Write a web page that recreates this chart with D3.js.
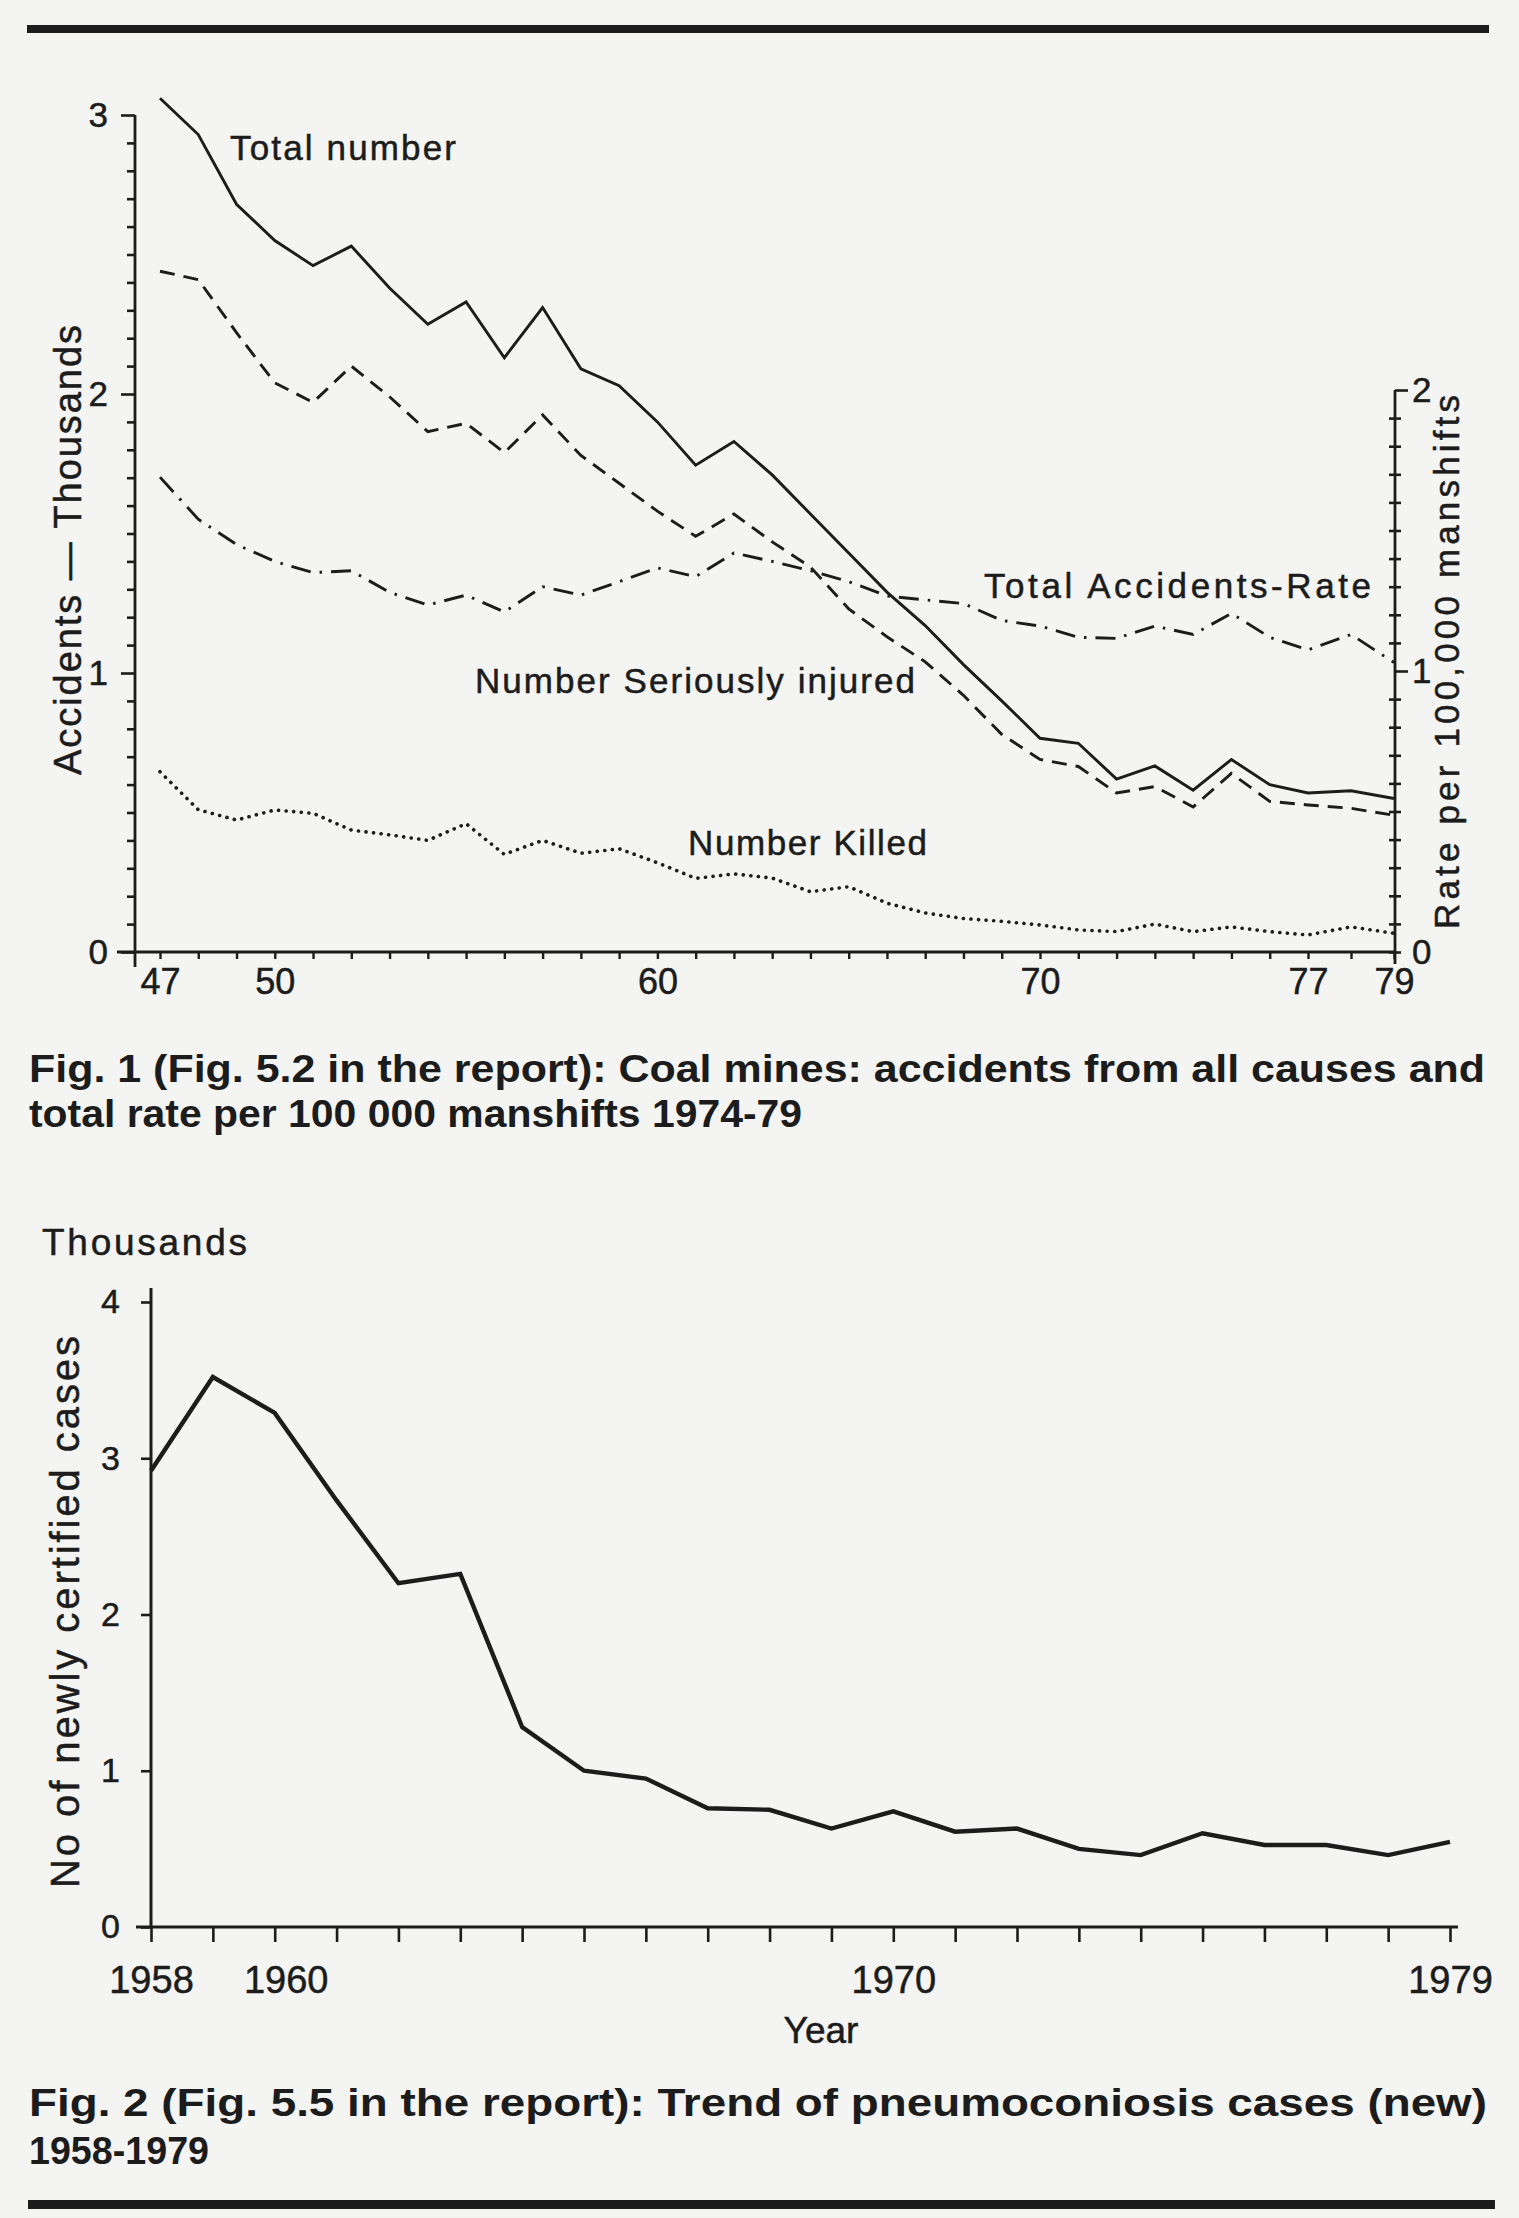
<!DOCTYPE html>
<html><head><meta charset="utf-8">
<script src="https://cdn.jsdelivr.net/npm/d3@7"></script>
<style>
html,body{margin:0;padding:0;background:#f4f4f2;}
svg{display:block;}
text{font-family:"Liberation Sans", Arial, Helvetica, sans-serif; fill:#1c1c1c;}
.lbl{stroke:#1c1c1c; stroke-width:0.5px;}
</style></head><body>
<svg id="c" width="1519" height="2218"></svg>
<script>
// ---------- Fig. 1 data ----------
const accYears = [47,48,49,50,51,52,53,54,55,56,57,58,59,60,61,62,63,64,65,66,67,68,69,70,71,72,73,74,75,76,77,78,79];
const totalNumber = [3.06,2.93,2.68,2.55,2.46,2.53,2.38,2.25,2.33,2.13,2.31,2.09,2.03,1.90,1.745,1.83,1.71,1.57,1.43,1.29,1.17,1.03,0.90,0.766,0.748,0.62,0.667,0.58,0.69,0.60,0.57,0.578,0.55];
const seriouslyInjured = [2.44,2.41,2.22,2.04,1.97,2.10,1.99,1.865,1.895,1.79,1.925,1.78,1.68,1.58,1.49,1.57,1.47,1.38,1.23,1.13,1.04,0.92,0.78,0.69,0.665,0.57,0.593,0.52,0.64,0.54,0.527,0.515,0.49];
const numberKilled = [0.646,0.51,0.473,0.509,0.497,0.437,0.42,0.40,0.46,0.35,0.40,0.354,0.37,0.32,0.264,0.28,0.265,0.216,0.234,0.175,0.14,0.12,0.11,0.097,0.079,0.073,0.10,0.073,0.09,0.073,0.061,0.09,0.067];
const accidentRate = [1.69,1.54,1.45,1.39,1.35,1.357,1.28,1.235,1.27,1.21,1.30,1.27,1.318,1.367,1.336,1.42,1.39,1.357,1.318,1.267,1.253,1.24,1.18,1.16,1.12,1.116,1.16,1.13,1.205,1.12,1.075,1.13,1.03];
const fig1XLabels = [47,50,60,70,77,79];
const fig1LeftLabels = [0,1,2,3];
const fig1RightLabels = [0,1,2];

// ---------- Fig. 2 data ----------
const pnYears = [1958,1959,1960,1961,1962,1963,1964,1965,1966,1967,1968,1969,1970,1971,1972,1973,1974,1975,1976,1977,1978,1979];
const pnCases = [2.92,3.52,3.29,2.73,2.20,2.26,1.28,1.00,0.95,0.76,0.75,0.63,0.74,0.61,0.63,0.50,0.46,0.60,0.525,0.525,0.46,0.545];
const fig2XLabels = [1958,1960,1970,1979];
const fig2YLabels = [0,1,2,3,4];

const ink = "#1c1c1c";
const svg = d3.select("#c");
svg.append("rect").attr("width",1519).attr("height",2218).attr("fill","#f4f4f2");

// rules
svg.append("rect").attr("x",27).attr("y",25).attr("width",1462).attr("height",8).attr("fill",ink);
svg.append("rect").attr("x",28).attr("y",2200).attr("width",1467).attr("height",9).attr("fill",ink);

// ================= FIG 1 =================
const x1 = d3.scaleLinear().domain([47,70,77,79]).range([160,1040,1308,1394]);
const yL = d3.scaleLinear().domain([0,3]).range([952,115]);
const yR = d3.scaleLinear().domain([0,2]).range([952,390]);

const g1 = svg.append("g");

// x axis
const xAx1 = d3.axisBottom(x1).tickValues(accYears).tickSize(7).tickSizeOuter(0)
  .tickFormat(d => fig1XLabels.includes(d) ? d : "");
const gx1 = g1.append("g").attr("transform","translate(0,952)").call(xAx1);
gx1.select(".domain").remove();
gx1.selectAll("line").attr("stroke",ink).attr("stroke-width",2.4);
gx1.selectAll("text").attr("class","lbl").attr("y",42).attr("dy",0).attr("font-size",36).attr("fill",ink);
g1.append("line").attr("x1",x1(47)-43).attr("x2",x1(79)+1).attr("y1",952).attr("y2",952)
  .attr("stroke",ink).attr("stroke-width",2.8);

// left y axis
const leftTicks = d3.range(0,31).map(i => i/10);
const yAxL = d3.axisLeft(yL).tickValues(leftTicks).tickSize(8).tickSizeOuter(0)
  .tickFormat(d => fig1LeftLabels.some(v => Math.abs(v-d)<1e-6) ? d3.format("d")(d) : "");
const gyL = g1.append("g").attr("transform","translate(135,0)").call(yAxL);
gyL.select(".domain").remove();
gyL.selectAll("line").attr("stroke",ink).attr("stroke-width",2.6);
gyL.selectAll(".tick").filter(d => fig1LeftLabels.some(v => Math.abs(v-d)<1e-6)).select("line").attr("x2",-14);
gyL.selectAll("text").attr("class","lbl").attr("x",-27).attr("font-size",35).attr("fill",ink);
g1.append("line").attr("x1",135).attr("x2",135).attr("y1",yL(3)).attr("y2",967)
  .attr("stroke",ink).attr("stroke-width",2.8);

// right y axis
const rightTicks = d3.range(0,21).map(i => i/10);
const yAxR = d3.axisRight(yR).tickValues(rightTicks).tickSize(6).tickSizeOuter(0)
  .tickFormat(d => fig1RightLabels.some(v => Math.abs(v-d)<1e-6) ? d3.format("d")(d) : "");
const gyR = g1.append("g").attr("transform","translate(1395,0)").call(yAxR);
gyR.select(".domain").remove();
gyR.selectAll("line").attr("x1",-6).attr("stroke",ink).attr("stroke-width",2.6);
gyR.selectAll(".tick").filter(d => Math.abs(d-1)<1e-6 || Math.abs(d-2)<1e-6).select("line").attr("x1",0).attr("x2",13);
gyR.selectAll("text").attr("class","lbl").attr("x",17).attr("font-size",35).attr("fill",ink);
g1.append("line").attr("x1",1395).attr("x2",1395).attr("y1",yR(2)).attr("y2",964)
  .attr("stroke",ink).attr("stroke-width",2.8);

// axis titles
g1.append("text").attr("class","lbl").attr("transform","translate(81,550) rotate(-90)")
  .attr("text-anchor","middle").attr("font-size",38)
  .attr("textLength",450).attr("lengthAdjust","spacing")
  .text("Accidents — Thousands");
g1.append("text").attr("class","lbl").attr("transform","translate(1459,662) rotate(-90)")
  .attr("text-anchor","middle").attr("font-size",35)
  .attr("textLength",534).attr("lengthAdjust","spacing")
  .text("Rate per 100,000 manshifts");

// series
const lineL = vals => d3.line().x((d,i)=>x1(accYears[i])).y(d=>yL(d))(vals);
const lineR = vals => d3.line().x((d,i)=>x1(accYears[i])).y(d=>yR(d))(vals);

g1.append("path").attr("d",lineL(totalNumber)).attr("fill","none")
  .attr("stroke",ink).attr("stroke-width",2.9).attr("stroke-linejoin","miter");
g1.append("path").attr("d",lineL(seriouslyInjured)).attr("fill","none")
  .attr("stroke",ink).attr("stroke-width",2.9).attr("stroke-dasharray","15 9");
g1.append("path").attr("d",lineR(accidentRate)).attr("fill","none")
  .attr("stroke",ink).attr("stroke-width",2.9).attr("stroke-dasharray","20 9 2.5 9");
g1.append("path").attr("d",lineL(numberKilled)).attr("fill","none")
  .attr("stroke",ink).attr("stroke-width",3.6).attr("stroke-linecap","round")
  .attr("stroke-dasharray","0.1 7.5");

// series labels
const lab = (txt,x,y,w) => g1.append("text").attr("class","lbl").attr("x",x).attr("y",y).attr("font-size",35)
  .attr("textLength",w).attr("lengthAdjust","spacing").text(txt);
lab("Total number",230,160,226);
lab("Total Accidents-Rate",984,598,387);
lab("Number Seriously injured",475,693,440);
lab("Number Killed",688,855,239);

// caption 1
const cap = (txt,x,y,w) => svg.append("text").attr("x",x).attr("y",y).attr("font-size",39)
  .attr("font-weight","bold").attr("textLength",w).attr("lengthAdjust","spacingAndGlyphs").text(txt);
cap("Fig. 1 (Fig. 5.2 in the report): Coal mines: accidents from all causes and",29,1082,1456);
cap("total rate per 100 000 manshifts 1974-79",29,1127,773);

// ================= FIG 2 =================
const x2 = d3.scaleLinear().domain([1958,1979]).range([151,1450]);
const y2 = d3.scaleLinear().domain([0,4]).range([1927,1302]);
const g2 = svg.append("g");

const xAx2 = d3.axisBottom(x2).tickValues(pnYears).tickSize(15).tickSizeOuter(0)
  .tickFormat(d => fig2XLabels.includes(d) ? d : "");
const gx2 = g2.append("g").attr("transform","translate(0,1927)").call(xAx2);
gx2.select(".domain").remove();
gx2.selectAll("line").attr("stroke",ink).attr("stroke-width",2.6);
gx2.selectAll("text").attr("class","lbl").attr("y",66).attr("dy",0).attr("font-size",38).attr("fill",ink)
  .attr("dx", d => d===1960 ? 11 : 0);
g2.append("line").attr("x1",136).attr("x2",1458).attr("y1",1927).attr("y2",1927)
  .attr("stroke",ink).attr("stroke-width",3);

const yAx2 = d3.axisLeft(y2).tickValues(fig2YLabels).tickSize(10).tickSizeOuter(0).tickFormat(d3.format("d"));
const gy2 = g2.append("g").attr("transform","translate(151,0)").call(yAx2);
gy2.select(".domain").remove();
gy2.selectAll("line").attr("stroke",ink).attr("stroke-width",2.6);
gy2.selectAll("text").attr("class","lbl").attr("x",-31).attr("font-size",34).attr("fill",ink);
g2.append("line").attr("x1",151).attr("x2",151).attr("y1",1288).attr("y2",1927)
  .attr("stroke",ink).attr("stroke-width",3);

g2.append("path").attr("d", d3.line().x((d,i)=>x2(pnYears[i])).y(d=>y2(d))(pnCases))
  .attr("fill","none").attr("stroke",ink).attr("stroke-width",4.4).attr("stroke-linejoin","miter");

g2.append("text").attr("class","lbl").attr("x",42).attr("y",1255).attr("font-size",37)
  .attr("textLength",205).attr("lengthAdjust","spacing").text("Thousands");
g2.append("text").attr("class","lbl").attr("x",821).attr("y",2043).attr("text-anchor","middle").attr("font-size",37).text("Year");
g2.append("text").attr("class","lbl").attr("transform","translate(79,1612) rotate(-90)")
  .attr("text-anchor","middle").attr("font-size",40)
  .attr("textLength",552).attr("lengthAdjust","spacing")
  .text("No of newly certified cases");

cap("Fig. 2 (Fig. 5.5 in the report): Trend of pneumoconiosis cases (new)",29,2116,1458);
cap("1958-1979",29,2164,180);
</script>
</body></html>
